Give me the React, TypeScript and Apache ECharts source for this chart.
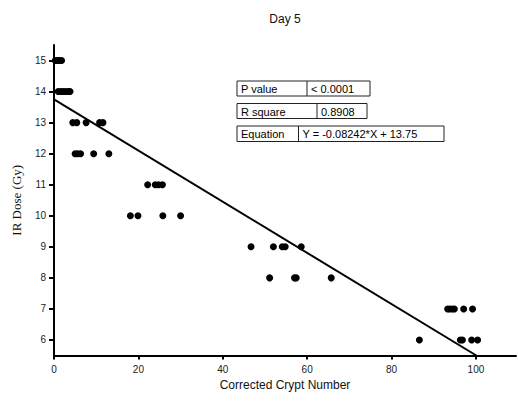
import React, { useEffect, useRef } from "react";
import * as echarts from "echarts";

const row15 = [0.3, 0.8, 1.3, 1.8];
const row14 = [1.0, 1.6, 2.2, 2.8, 3.4, 3.8];
const row13 = [4.45, 5.4, 7.6, 10.8, 11.6];
const row12 = [5.0, 5.6, 6.3, 9.4, 13.0];
const row11 = [22.2, 24.0, 24.8, 25.7];
const row10 = [18.1, 19.9, 25.8, 30.0];
const row9 = [46.7, 52.0, 54.1, 54.8, 58.6];
const row8 = [51.1, 57.0, 57.4, 65.7];
const row7 = [93.3, 93.8, 94.4, 94.9, 97.1, 99.2];
const row6 = [86.6, 96.3, 96.8, 99.0, 100.4];

const slope = -0.08242;
const intercept = 13.75;
const fitX = [0, 100.1];

const xTicks = [0, 20, 40, 60, 80, 100];
const yTicks = [6, 7, 8, 9, 10, 11, 12, 13, 14, 15];

const statLabels = ["P value", "R square", "Equation"];
const statValues = ["< 0.0001", "0.8908", "Y = -0.08242*X + 13.75"];

export default function App() {
  const ref = useRef<HTMLDivElement>(null);
  useEffect(() => {
    if (!ref.current) return;
    const chart = echarts.init(ref.current, null, { renderer: "svg" });
    const rows: [number, number[]][] = [
      [15, row15], [14, row14], [13, row13], [12, row12], [11, row11],
      [10, row10], [9, row9], [8, row8], [7, row7], [6, row6],
    ];
    const points: number[][] = [];
    rows.forEach(([y, xs]) => xs.forEach((x) => points.push([x, y])));
    const fit = fitX.map((x) => [x, slope * x + intercept]);

    const font = "Liberation Sans, Arial, sans-serif";
    const boxes = [
      { x: 237, y: 81, w: 133, h: 15, div: 307 },
      { x: 237, y: 103.5, w: 130, h: 15, div: 317 },
      { x: 237, y: 126, w: 207, h: 15.5, div: 298.5 },
    ];
    const graphics: any[] = [
      {
        type: "text",
        x: 285,
        y: 19,
        style: { text: "Day 5", font: "12px " + font, fill: "#111", align: "center", verticalAlign: "middle" },
      },
    ];
    boxes.forEach((b, i) => {
      graphics.push({
        type: "rect",
        shape: { x: b.x, y: b.y, width: b.w, height: b.h },
        style: { fill: "#fff", stroke: "#222", lineWidth: 1 },
      });
      graphics.push({
        type: "line",
        shape: { x1: b.div, y1: b.y, x2: b.div, y2: b.y + b.h },
        style: { stroke: "#222", lineWidth: 1 },
      });
      graphics.push({
        type: "text",
        x: b.x + 4,
        y: b.y + b.h / 2 + 0.5,
        style: { text: statLabels[i], font: "11px " + font, fill: "#000", verticalAlign: "middle" },
      });
      graphics.push({
        type: "text",
        x: b.div + 4,
        y: b.y + b.h / 2 + 0.5,
        style: { text: statValues[i], font: "11px " + font, fill: "#000", verticalAlign: "middle" },
      });
    });

    chart.setOption({
      animation: false,
      backgroundColor: "#fff",
      grid: { left: 54, top: 45, width: 462, height: 310.5, containLabel: false },
      xAxis: {
        type: "value",
        min: 0,
        max: 109.5,
        name: "Corrected Crypt Number",
        nameLocation: "middle",
        nameGap: 20,
        nameTextStyle: { fontFamily: font, fontSize: 12, color: "#111" },
        axisLine: { onZero: false, lineStyle: { color: "#000", width: 2 } },
        axisTick: { show: true, customValues: xTicks, length: 4, lineStyle: { color: "#000", width: 2 } },
        axisLabel: { customValues: xTicks, fontFamily: font, fontSize: 10, color: "#222", margin: 9 },
        splitLine: { show: false },
      },
      yAxis: {
        type: "value",
        min: 5.5,
        max: 15.5,
        name: "IR Dose (Gy)",
        nameLocation: "middle",
        nameGap: 31,
        nameTextStyle: { fontFamily: "Liberation Serif, Times New Roman, serif", fontSize: 13, color: "#111" },
        axisLine: { show: true, onZero: false, lineStyle: { color: "#000", width: 2 } },
        axisTick: { show: true, customValues: yTicks, length: 5, lineStyle: { color: "#000", width: 2 } },
        axisLabel: { customValues: yTicks, fontFamily: font, fontSize: 10, color: "#222", margin: 8 },
        splitLine: { show: false },
      },
      series: [
        {
          type: "scatter",
          data: points,
          symbol: "circle",
          symbolSize: 7,
          itemStyle: { color: "#000", opacity: 1 },
          z: 3,
        },
        {
          type: "line",
          data: fit,
          showSymbol: false,
          symbol: "none",
          lineStyle: { color: "#000", width: 2 },
          z: 2,
        },
      ],
      graphic: graphics,
    });
    return () => chart.dispose();
  }, []);
  return <div ref={ref} style={{ width: 518, height: 402, position: "absolute", left: 0, top: 0 }} />;
}
